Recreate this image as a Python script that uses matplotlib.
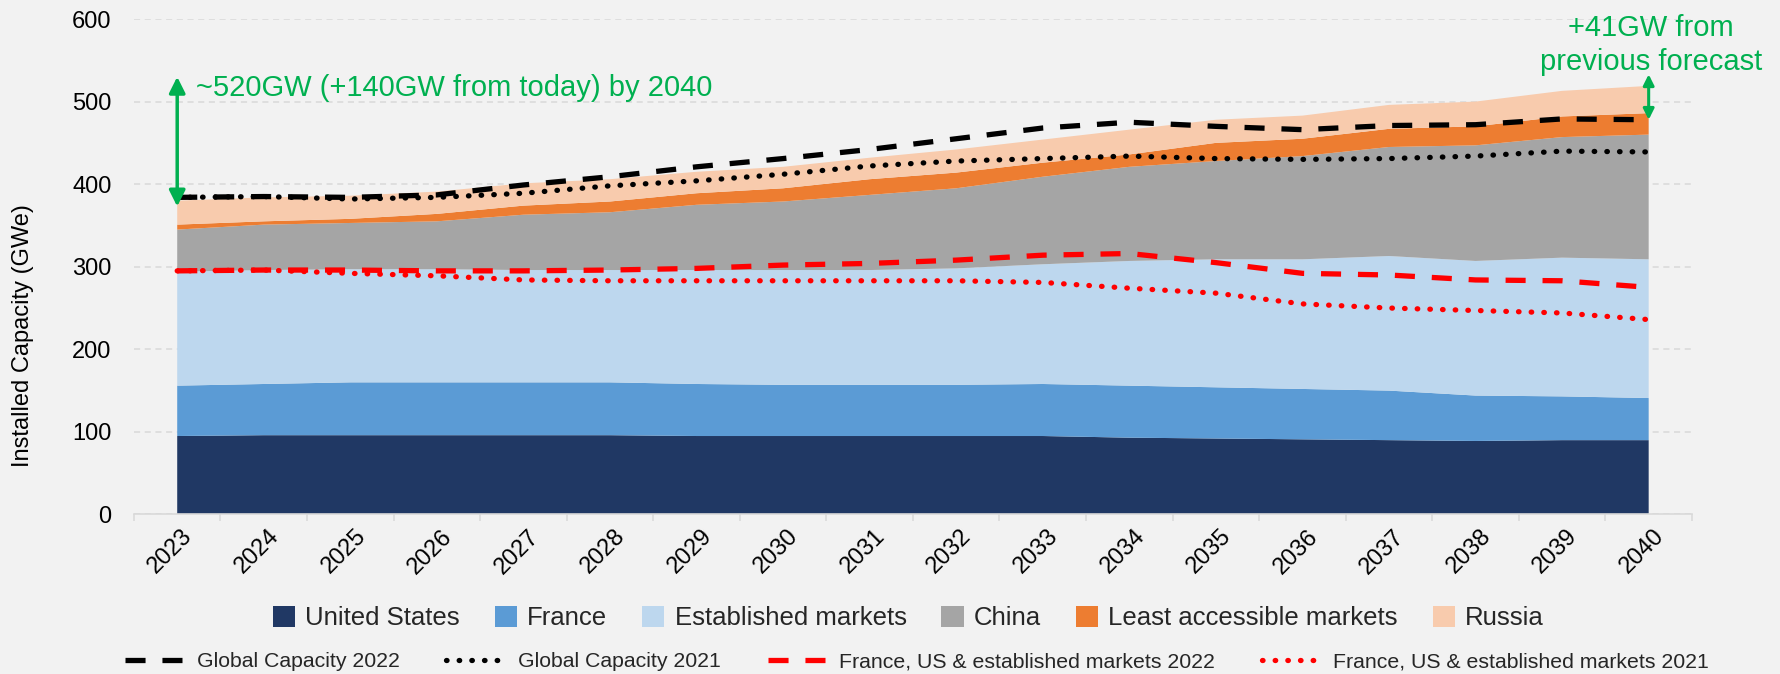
import numpy as np
import matplotlib
matplotlib.use('Agg')
import matplotlib.pyplot as plt
import matplotlib.transforms as mtransforms
from matplotlib.patches import Patch

plt.rcParams['font.family'] = ['Liberation Sans', 'DejaVu Sans']

# data (GWe)
years = list(range(2023, 2041))
united_states = [95, 96, 96, 96, 96, 96, 95, 95, 95, 95, 95, 93, 92, 91, 90, 89, 90, 90]
france = [61, 62, 64, 64, 64, 64, 63, 62, 62, 62, 63, 63, 62, 61, 60, 55, 53, 51]
established = [138, 138, 137, 137, 136, 136, 138, 139, 139, 141, 145, 151, 155, 157, 163, 163, 168, 168]
china = [51, 55, 56, 58, 67, 70, 79, 83, 91, 97, 106, 114, 119, 125, 132, 140, 146, 151]
least_accessible = [6, 4, 5, 9, 11, 13, 14, 16, 19, 19, 17, 15, 22, 21, 22, 23, 25, 26]
russia = [29, 29, 28, 27, 27, 27, 26, 26, 26, 28, 28, 30, 28, 28, 29, 30, 31, 33]

global_2022 = [384, 385, 384, 387, 399, 409, 421, 431, 442, 455, 468, 475, 470, 466, 471, 472, 479, 478]
global_2021 = [384, 385, 382, 384, 389, 398, 404, 412, 422, 428, 431, 434, 431, 430, 431, 434, 440, 439]
est_2022 = [295, 296, 296, 295, 295, 296, 298, 302, 304, 308, 314, 316, 305, 292, 290, 284, 283, 275]
est_2021 = [295, 296, 292, 289, 284, 283, 283, 283, 283, 283, 281, 274, 268, 255, 250, 247, 244, 236]

stack_labels = ['United States', 'France', 'Established markets', 'China',
                'Least accessible markets', 'Russia']
stack_colors = ['#203864', '#5B9BD5', '#BDD7EE', '#A5A5A5', '#ED7D31', '#F8CBAD']
green = '#00B050'
bg = '#F2F2F2'

fig = plt.figure(figsize=(17.81, 6.74), dpi=100, facecolor=bg)
ax = fig.add_axes([0.0752, 0.2367, 0.8748, 0.7351], facecolor=bg)

ax.stackplot(years, united_states, france, established, china, least_accessible, russia,
             colors=stack_colors, linewidth=0, zorder=2)

dash = (0, (3.8, 3.2))
dot = (0, (0.1, 2.3))
l1, = ax.plot(years, global_2022, color='black', lw=3.8, linestyle=dash, zorder=4)
l2, = ax.plot(years, global_2021, color='black', lw=3.8, linestyle=dot,
              dash_capstyle='round', zorder=4)
l3, = ax.plot(years, est_2022, color='#FF0000', lw=3.8, linestyle=dash, zorder=4)
l4, = ax.plot(years, est_2021, color='#FF0000', lw=3.8, linestyle=dot,
              dash_capstyle='round', zorder=4)

ax.set_xlim(2022.5, 2040.5)
ax.set_ylim(0, 600)
ax.set_yticks(range(0, 601, 100))
ax.set_xticks(years)
ax.set_xticks(np.arange(2022.5, 2041, 1), minor=True)
ax.grid(axis='y', color='#D9D9D9', lw=1.1, linestyle=(0, (4, 3)), zorder=0)
ax.set_axisbelow(True)

for s in ['top', 'right', 'left']:
    ax.spines[s].set_visible(False)
ax.spines['bottom'].set_color('#D9D9D9')
ax.spines['bottom'].set_linewidth(1.2)

ax.tick_params(axis='y', length=0, pad=16, labelsize=17, labelcolor='black')
ax.tick_params(axis='x', which='major', length=0, pad=17, labelsize=17)
ax.tick_params(axis='x', which='minor', length=5, width=1.1, color='#D9D9D9')
shift = mtransforms.ScaledTranslation(12 / 100, 5 / 100, fig.dpi_scale_trans)
for lab in ax.get_xticklabels():
    lab.set_rotation(45)
    lab.set_ha('right')
    lab.set_va('center')
    lab.set_rotation_mode('anchor')
    lab.set_transform(lab.get_transform() + shift)

fig.text(0.0129, 0.5015, 'Installed Capacity (GWe)', rotation=90, ha='center',
         va='center', fontsize=17, color='black')

# annotations
ax.annotate('', xy=(2023, 530), xytext=(2023, 373),
            arrowprops=dict(arrowstyle='<|-|>', color=green, lw=2.5,
                            mutation_scale=24, shrinkA=0, shrinkB=0),
            zorder=5, annotation_clip=False)
ax.text(2023.22, 507, '~520GW (+140GW from today) by 2040', color=green,
        fontsize=21, va='baseline', ha='left')
ax.annotate('', xy=(2040, 533), xytext=(2040, 478),
            arrowprops=dict(arrowstyle='<|-|>', color=green, lw=2.2,
                            mutation_scale=16, shrinkA=0, shrinkB=0),
            zorder=5, annotation_clip=False)
fig.text(1651 / 1781, 1 - 36 / 674, '+41GW from', color=green,
         fontsize=21, ha='center', va='baseline')
fig.text(1651 / 1781, 1 - 70 / 674, 'previous forecast', color=green,
         fontsize=21, ha='center', va='baseline')

# legends
patches = [Patch(facecolor=c, label=l) for c, l in zip(stack_colors, stack_labels)]
fig.legend(handles=patches, loc='center', bbox_to_anchor=(0.510, 0.083),
           ncol=6, frameon=False, fontsize=18.5, labelcolor='#262626',
           handlelength=0.86, handleheight=0.86, handletextpad=0.4,
           columnspacing=1.36)
fig.legend(handles=[l1, l2, l3, l4],
           labels=['Global Capacity 2022', 'Global Capacity 2021',
                   'France, US & established markets 2022',
                   'France, US & established markets 2021'],
           loc='center', bbox_to_anchor=(0.515, 0.018), ncol=4, frameon=False,
           fontsize=15.3, labelcolor='#262626', handlelength=2.8,
           handletextpad=0.57, columnspacing=2.2)

fig.savefig('out.png', dpi=100, facecolor=bg)
